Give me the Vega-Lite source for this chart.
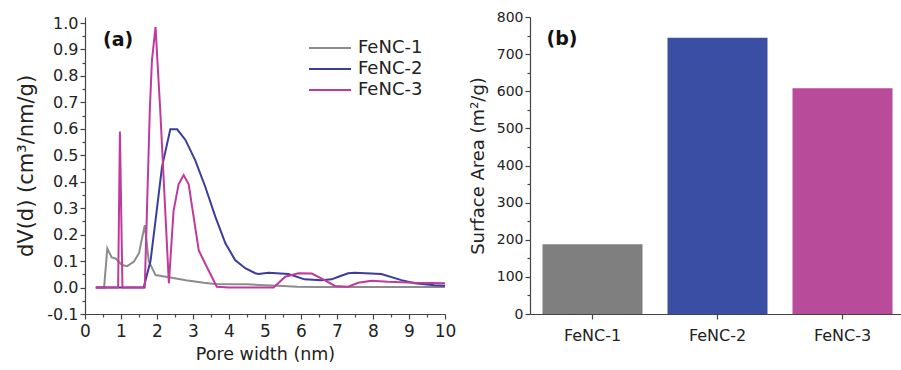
{
  "$schema": "https://vega.github.io/schema/vega-lite/v6.json",
  "background": "white",
  "padding": {"left": 15, "top": 10, "right": 0, "bottom": 0},
  "spacing": 13,
  "config": {
    "view": {"stroke": null},
    "font": "DejaVu Sans",
    "axis": {
      "domainColor": "#444444",
      "tickColor": "#444444",
      "labelColor": "#222222",
      "titleColor": "#222222",
      "labelFont": "DejaVu Sans",
      "titleFont": "DejaVu Sans",
      "titleFontWeight": "normal",
      "grid": false,
      "domainWidth": 1.2,
      "tickWidth": 1.2,
      "tickCount": 60,
      "labelOverlap": false
    }
  },
  "datasets": {
    "pore": [
      {"s": "FeNC-1", "x": 0.3, "y": 0},
      {"s": "FeNC-1", "x": 0.53, "y": 0},
      {"s": "FeNC-1", "x": 0.62, "y": 0.148},
      {"s": "FeNC-1", "x": 0.74, "y": 0.114},
      {"s": "FeNC-1", "x": 0.85, "y": 0.11},
      {"s": "FeNC-1", "x": 1.03, "y": 0.085},
      {"s": "FeNC-1", "x": 1.17, "y": 0.081},
      {"s": "FeNC-1", "x": 1.36, "y": 0.098},
      {"s": "FeNC-1", "x": 1.5, "y": 0.13},
      {"s": "FeNC-1", "x": 1.66, "y": 0.236},
      {"s": "FeNC-1", "x": 1.77, "y": 0.1},
      {"s": "FeNC-1", "x": 1.96, "y": 0.047},
      {"s": "FeNC-1", "x": 2.33, "y": 0.039},
      {"s": "FeNC-1", "x": 2.8, "y": 0.028},
      {"s": "FeNC-1", "x": 3.3, "y": 0.018},
      {"s": "FeNC-1", "x": 3.6, "y": 0.013},
      {"s": "FeNC-1", "x": 4.1, "y": 0.012},
      {"s": "FeNC-1", "x": 4.5, "y": 0.012},
      {"s": "FeNC-1", "x": 5.0, "y": 0.009},
      {"s": "FeNC-1", "x": 5.5, "y": 0.006},
      {"s": "FeNC-1", "x": 5.9, "y": 0.003},
      {"s": "FeNC-1", "x": 6.5, "y": 0.002},
      {"s": "FeNC-1", "x": 7.5, "y": 0.002},
      {"s": "FeNC-1", "x": 8.5, "y": 0.002},
      {"s": "FeNC-1", "x": 10.0, "y": 0.002},
      {"s": "FeNC-2", "x": 0.3, "y": 0},
      {"s": "FeNC-2", "x": 1.63, "y": 0},
      {"s": "FeNC-2", "x": 1.82, "y": 0.1},
      {"s": "FeNC-2", "x": 1.96, "y": 0.255},
      {"s": "FeNC-2", "x": 2.14, "y": 0.457},
      {"s": "FeNC-2", "x": 2.37, "y": 0.598},
      {"s": "FeNC-2", "x": 2.56, "y": 0.598},
      {"s": "FeNC-2", "x": 2.79, "y": 0.558},
      {"s": "FeNC-2", "x": 3.06, "y": 0.482},
      {"s": "FeNC-2", "x": 3.34, "y": 0.381},
      {"s": "FeNC-2", "x": 3.62, "y": 0.268},
      {"s": "FeNC-2", "x": 3.9, "y": 0.167},
      {"s": "FeNC-2", "x": 4.17, "y": 0.104},
      {"s": "FeNC-2", "x": 4.45, "y": 0.073},
      {"s": "FeNC-2", "x": 4.73, "y": 0.054},
      {"s": "FeNC-2", "x": 4.82, "y": 0.051},
      {"s": "FeNC-2", "x": 5.1, "y": 0.056},
      {"s": "FeNC-2", "x": 5.65, "y": 0.051},
      {"s": "FeNC-2", "x": 6.1, "y": 0.031},
      {"s": "FeNC-2", "x": 6.57, "y": 0.028},
      {"s": "FeNC-2", "x": 6.85, "y": 0.031},
      {"s": "FeNC-2", "x": 7.04, "y": 0.041},
      {"s": "FeNC-2", "x": 7.31, "y": 0.054},
      {"s": "FeNC-2", "x": 7.5, "y": 0.056},
      {"s": "FeNC-2", "x": 8.23, "y": 0.051},
      {"s": "FeNC-2", "x": 8.79, "y": 0.028},
      {"s": "FeNC-2", "x": 9.16, "y": 0.016},
      {"s": "FeNC-2", "x": 9.71, "y": 0.009},
      {"s": "FeNC-2", "x": 10.0, "y": 0.007},
      {"s": "FeNC-3", "x": 0.3, "y": 0},
      {"s": "FeNC-3", "x": 0.92, "y": 0},
      {"s": "FeNC-3", "x": 0.97, "y": 0.59},
      {"s": "FeNC-3", "x": 1.04, "y": 0},
      {"s": "FeNC-3", "x": 1.66, "y": 0},
      {"s": "FeNC-3", "x": 1.8, "y": 0.67},
      {"s": "FeNC-3", "x": 1.86, "y": 0.86},
      {"s": "FeNC-3", "x": 1.96, "y": 0.985},
      {"s": "FeNC-3", "x": 2.01, "y": 0.86},
      {"s": "FeNC-3", "x": 2.09, "y": 0.67},
      {"s": "FeNC-3", "x": 2.33, "y": 0.016},
      {"s": "FeNC-3", "x": 2.46, "y": 0.29},
      {"s": "FeNC-3", "x": 2.6, "y": 0.39},
      {"s": "FeNC-3", "x": 2.74, "y": 0.425},
      {"s": "FeNC-3", "x": 2.88, "y": 0.39},
      {"s": "FeNC-3", "x": 3.16, "y": 0.14},
      {"s": "FeNC-3", "x": 3.34, "y": 0.09},
      {"s": "FeNC-3", "x": 3.66, "y": 0.003},
      {"s": "FeNC-3", "x": 4.0, "y": 0},
      {"s": "FeNC-3", "x": 5.24, "y": 0},
      {"s": "FeNC-3", "x": 5.56, "y": 0.041},
      {"s": "FeNC-3", "x": 5.93, "y": 0.054},
      {"s": "FeNC-3", "x": 6.3, "y": 0.053},
      {"s": "FeNC-3", "x": 6.63, "y": 0.03},
      {"s": "FeNC-3", "x": 6.94, "y": 0.006},
      {"s": "FeNC-3", "x": 7.31, "y": 0.003},
      {"s": "FeNC-3", "x": 7.59, "y": 0.018},
      {"s": "FeNC-3", "x": 7.96, "y": 0.026},
      {"s": "FeNC-3", "x": 8.42, "y": 0.022},
      {"s": "FeNC-3", "x": 9.16, "y": 0.018},
      {"s": "FeNC-3", "x": 10.0, "y": 0.016}
    ],
    "bars": [
      {"sample": "FeNC-1", "area": 188},
      {"sample": "FeNC-2", "area": 744},
      {"sample": "FeNC-3", "area": 608}
    ]
  },
  "resolve": {"scale": {"color": "independent"}},
  "hconcat": [
    {
      "width": 360,
      "height": 297,
      "layer": [
        {
          "data": {"name": "pore"},
          "mark": {"type": "line", "strokeWidth": 2, "clip": true},
          "encoding": {
            "x": {
              "field": "x", "type": "quantitative",
              "scale": {"domain": [0, 10], "nice": false},
              "axis": {
                "title": "Pore width (nm)",
                "values": [0, 0.5, 1, 1.5, 2, 2.5, 3, 3.5, 4, 4.5, 5, 5.5, 6, 6.5, 7, 7.5, 8, 8.5, 9, 9.5, 10],
                "labelExpr": "datum.value % 1 === 0 ? format(datum.value, 'd') : ''",
                "tickSize": {"condition": {"test": "datum.value % 1 !== 0", "value": 3}, "value": 5},
                "labelFontSize": 17,
                "titleFontSize": 17.5,
                "labelPadding": 4,
                "titlePadding": 6,
                "labelFlush": false
              }
            },
            "y": {
              "field": "y", "type": "quantitative",
              "scale": {"domain": [-0.1, 1.0227], "nice": false, "zero": false},
              "axis": {
                "title": "dV(d) (cm³/nm/g)",
                "values": [-0.1, -0.05, 0, 0.05, 0.1, 0.15, 0.2, 0.25, 0.3, 0.35, 0.4, 0.45, 0.5, 0.55, 0.6, 0.65, 0.7, 0.75, 0.8, 0.85, 0.9, 0.95, 1.0],
                "labelExpr": "round(datum.value * 100) % 10 === 0 ? replace(format(datum.value, '.1f'), '−', '-') : ''",
                "tickSize": {"condition": {"test": "round(datum.value * 100) % 10 !== 0", "value": 3}, "value": 5},
                "labelFontSize": 16,
                "titleFontSize": 21,
                "labelPadding": 2,
                "titlePadding": 10,
                "labelFlush": false
              }
            },
            "color": {
              "field": "s", "type": "nominal",
              "scale": {"domain": ["FeNC-1", "FeNC-2", "FeNC-3"], "range": ["#8c8c8c", "#3c3c9a", "#c03a9b"]},
              "legend": {
                "title": null,
                "orient": "none",
                "legendX": 222,
                "legendY": 22,
                "symbolType": "M-1,0H5",
                "symbolSize": 196,
                "symbolStrokeWidth": 2,
                "labelFontSize": 18,
                "labelColor": "#222222",
                "labelFont": "DejaVu Sans",
                "labelOffset": 33,
                "rowPadding": 3
              }
            }
          }
        },
        {
          "data": {"values": [{"label": "(a)"}]},
          "mark": {"type": "text", "fontWeight": "bold", "fontSize": 19, "align": "left", "baseline": "middle", "color": "#111111"},
          "encoding": {
            "x": {"datum": 0.5, "type": "quantitative"},
            "y": {"datum": 0.935, "type": "quantitative"},
            "text": {"field": "label"}
          }
        }
      ]
    },
    {
      "width": 375,
      "height": 297,
      "layer": [
        {
          "data": {"name": "bars"},
          "mark": {"type": "bar"},
          "encoding": {
            "x": {
              "field": "sample", "type": "nominal", "sort": null,
              "scale": {"paddingInner": 0.2, "paddingOuter": 0.1},
              "axis": {"title": null, "labelAngle": 0, "labelFontSize": 16, "labelPadding": 8, "tickSize": 5}
            },
            "y": {
              "field": "area", "type": "quantitative",
              "scale": {"domain": [0, 800], "nice": false},
              "axis": {
                "title": "Surface Area (m²/g)",
                "values": [0, 50, 100, 150, 200, 250, 300, 350, 400, 450, 500, 550, 600, 650, 700, 750, 800],
                "labelExpr": "datum.value % 100 === 0 ? format(datum.value, 'd') : ''",
                "tickSize": {"condition": {"test": "datum.value % 100 !== 0", "value": 3}, "value": 5},
                "labelFontSize": 14,
                "titleFontSize": 18,
                "labelPadding": 2,
                "titlePadding": 9,
                "labelFlush": false
              }
            },
            "color": {
              "field": "sample", "type": "nominal",
              "scale": {"domain": ["FeNC-1", "FeNC-2", "FeNC-3"], "range": ["#7f7f7f", "#3a4fa3", "#b94b9b"]},
              "legend": null
            }
          }
        },
        {
          "data": {"values": [{"label": "(b)"}]},
          "mark": {"type": "text", "fontWeight": "bold", "fontSize": 19, "align": "left", "baseline": "middle", "dx": -46, "color": "#111111"},
          "encoding": {
            "x": {"datum": "FeNC-1", "type": "nominal"},
            "y": {"datum": 740, "type": "quantitative"},
            "text": {"field": "label"}
          }
        }
      ]
    }
  ]
}
